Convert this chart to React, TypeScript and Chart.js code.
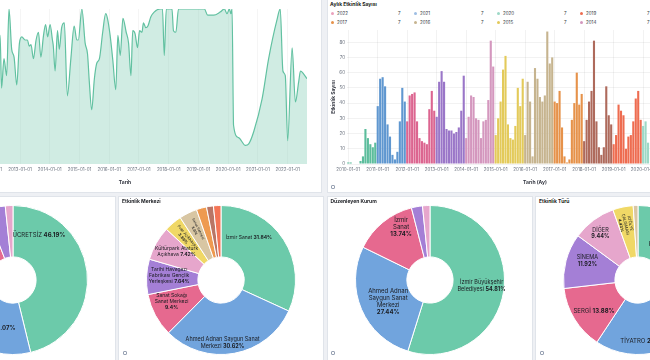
import React, { useEffect, useRef } from "react";
import { Chart, registerables } from "chart.js";
Chart.register(...registerables);

const FONT = "Inter, 'Noto Sans', 'DejaVu Sans', sans-serif";
Chart.defaults.font.family = FONT;

const TEXT = "#343741";
const SUBDUED = "#69707d";

// ---------------- Top-left: area chart (time series) ----------------
const areaDates = [
  2010.45, 2010.7, 2011.0, 2011.3, 2011.6, 2011.9, 2012.1,
  2012.33, 2012.38, 2012.46, 2012.55, 2012.63, 2012.72, 2012.8, 2012.89, 2012.98,
  2013.06, 2013.17, 2013.25, 2013.31, 2013.37, 2013.45, 2013.54, 2013.62, 2013.7, 2013.79, 2013.86, 2013.93,
  2014.01, 2014.09, 2014.12, 2014.18, 2014.26, 2014.32, 2014.4, 2014.49, 2014.59, 2014.71, 2014.82, 2014.91, 2014.96,
  2015.08, 2015.19, 2015.27, 2015.33, 2015.41, 2015.5, 2015.58, 2015.67, 2015.78, 2015.88, 2015.94,
  2016.03, 2016.12, 2016.22, 2016.29, 2016.37, 2016.46, 2016.57, 2016.65, 2016.73, 2016.79, 2016.87, 2016.95,
  2017.02, 2017.1, 2017.15, 2017.23, 2017.3, 2017.4, 2017.51, 2017.71, 2017.79, 2017.85, 2017.92,
  2018.11, 2018.16, 2018.24, 2018.33, 2018.5,
  2019.06, 2019.2, 2019.31, 2019.51, 2019.73, 2019.87, 2019.96,
  2020.04, 2020.09, 2020.13, 2020.18, 2020.35, 2020.58, 2020.69, 2020.86,
  2021.14, 2021.36, 2021.64, 2021.75, 2021.84, 2021.92,
  2022.0, 2022.15, 2022.26, 2022.37, 2022.43, 2022.54, 2022.65,
];
const areaValues = [
  60, 88, 72, 95, 58, 84, 66,
  83, 49, 68, 57, 100, 74, 69, 51, 78,
  82, 80, 80, 76, 77, 68, 80, 85, 69, 83, 90, 82,
  90, 80, 76, 60, 86, 74, 88, 91, 44, 68, 89, 80, 80,
  100, 78, 71, 53, 35, 55, 65, 68, 85, 97, 94,
  83, 67, 48, 83, 70, 94, 85, 78, 57, 86, 84, 75,
  86, 85, 91, 88, 89, 95, 98, 100, 100, 70, 100,
  100, 86, 85, 100, 100,
  100, 100, 96, 96, 98, 100, 97,
  100, 97, 100, 25, 17, 12, 13, 21,
  42, 68, 93, 100, 60, 57,
  15, 75, 40, 53, 60, 58, 55,
];
const areaTickYears = [2011, 2012, 2013, 2014, 2015, 2016, 2017, 2018, 2019, 2020, 2021, 2022];

// ---------------- Top-right: monthly event counts, by year ----------------
const barYears = [2010, 2011, 2012, 2013, 2014, 2015, 2016, 2017, 2018, 2019, 2020, 2021, 2022];
const counts2010 = [1, 1, 0, 0, 0, 2, 5, 23, 17, 13, 11, 14];
const counts2011 = [38, 56, 57, 51, 26, 18, 6, 3, 8, 28, 50, 41];
const counts2012 = [28, 45, 46, 47, 28, 17, 15, 14, 13, 36, 48, 35];
const counts2013 = [31, 54, 61, 54, 23, 22, 22, 20, 21, 24, 35, 58];
const counts2014 = [17, 31, 45, 44, 30, 29, 17, 28, 29, 42, 81, 64];
const counts2015 = [19, 30, 41, 62, 71, 26, 17, 16, 25, 50, 38, 56];
const counts2016 = [19, 54, 41, 5, 63, 56, 44, 41, 45, 87, 66, 70];
const counts2017 = [41, 40, 48, 24, 5, 1, 3, 29, 40, 60, 39, 46];
const counts2018 = [15, 29, 41, 48, 81, 28, 11, 6, 11, 51, 32, 26];
const counts2019 = [13, 19, 39, 35, 32, 10, 18, 19, 28, 43, 48, 29];
const counts2020 = [25, 28, 14, 0, 0, 0, 2, 5, 8, 12, 10, 9];
const counts2021 = [8, 10, 12, 15, 20, 25, 22, 18, 30, 35, 33, 28];
const counts2022 = [30, 32, 35, 38, 36, 33, 30, 28, 25];
const countsByYear = [
  counts2010, counts2011, counts2012, counts2013, counts2014, counts2015, counts2016,
  counts2017, counts2018, counts2019, counts2020, counts2021, counts2022,
];
const yearColors = [
  "#5CBD9C", "#5F97D0", "#DC6590", "#9A76C8", "#D497BE", "#E3CA5A", "#C6B48F",
  "#E6924A", "#AE6A5C", "#EE6C50", "#9DD8C6", "#9DBDE3", "#EBA1BC",
];
const legendYears = [2022, 2021, 2020, 2019, 2018, 2017, 2016, 2015, 2014, 2013];
const legendValue = "7";
const barYTicks = [0, 10, 20, 30, 40, 50, 60, 70, 80];

// ---------------- Bottom: doughnuts ----------------
const palette = ["#6CCAAA", "#71A4DD", "#E6698F", "#A47FD6", "#E6A6CC", "#F0D866", "#D8C6A3", "#EE9A50", "#B97565", "#F47455"];

const priceNames = ["ÜCRETSİZ", "ÜCRETLİ", "İNDİRİMLİ", "DAVETİYELİ", "BELİRTİLMEMİŞ"];
const priceShares = [46.19, 31.07, 16.88, 4.2, 1.66];

const venueNames = [
  "İzmir Sanat", "Ahmed Adnan Saygun Sanat Merkezi", "Sanat Sokağı Sanat Merkezi",
  "Tarihi Havagazı Fabrikası Gençlik Yerleşkesi", "Kültürpark Atatürk Açıkhava",
  "Fuar Açıkhava", "Sanat Sahnesi", "Diğer 1", "Diğer 2", "Diğer 3",
];
const venueShares = [31.84, 30.62, 9.4, 7.64, 7.42, 3.86, 3.9, 2.2, 1.5, 1.62];

const organizerNames = ["İzmir Büyükşehir Belediyesi", "Ahmed Adnan Saygun Sanat Merkezi", "İzmir Sanat", "Diğer A", "Diğer B"];
const organizerShares = [54.81, 27.44, 13.74, 2.4, 1.61];

const typeNames = ["KONSER", "TİYATRO", "SERGİ", "SİNEMA", "DİĞER", "ATÖLYE ÇALIŞMASI", "SÖYLEŞİ"];
const typeShares = [31.17, 28.13, 13.88, 11.92, 9.44, 4.43, 1.03];

// label placement (fraction along slice, radius, font size, wrap width, rotate)
type LL = { f: number; r: number; fs: number; w: number; rot?: boolean } | null;
const priceLayout: LL[] = [
  { f: 0.18, r: 52, fs: 6, w: 90 },
  { f: 0.34, r: 53, fs: 6, w: 90 },
  { f: 0.5, r: 50, fs: 5.5, w: 40 },
  null, null,
];
const venueLayout: LL[] = [
  { f: 0.29, r: 51, fs: 5, w: 90 },
  { f: 0.58, r: 63, fs: 5.5, w: 80 },
  { f: 0.63, r: 54, fs: 5, w: 34 },
  { f: 0.59, r: 52, fs: 5, w: 52 },
  { f: 0.63, r: 53, fs: 5, w: 46 },
  { f: 0.5, r: 56, fs: 4, w: 30, rot: true },
  { f: 0.5, r: 56, fs: 3.5, w: 28, rot: true },
  null, null, null,
];
const organizerLayout: LL[] = [
  { f: 0.49, r: 52, fs: 5.5, w: 50 },
  { f: 0.46, r: 47, fs: 6, w: 45 },
  { f: 0.71, r: 60, fs: 6, w: 25 },
  null, null,
];
const typeLayout: LL[] = [
  { f: 0.39, r: 49, fs: 6, w: 90 },
  { f: 0.61, r: 62, fs: 6, w: 90 },
  { f: 0.42, r: 54, fs: 6, w: 60 },
  { f: 0.63, r: 54, fs: 5.5, w: 28 },
  { f: 0.44, r: 60, fs: 5.5, w: 25 },
  { f: 0.44, r: 57, fs: 4, w: 32, rot: true },
  null,
];

const fmtPct = (v: number) => `${parseFloat(v.toFixed(2))}%`;

const sliceLabelPlugin = {
  id: "sliceLabels",
  afterDatasetsDraw(chart: any, _a: any, opts: any) {
    const layout: LL[] = opts.layout || [];
    const meta = chart.getDatasetMeta(0);
    const ctx: CanvasRenderingContext2D = chart.ctx;
    const names = chart.data.labels as string[];
    const values = chart.data.datasets[0].data as number[];
    meta.data.forEach((arc: any, i: number) => {
      const L = layout[i];
      if (!L) return;
      const p = arc.getProps(["x", "y", "startAngle", "endAngle"], true);
      const a = p.startAngle + (p.endAngle - p.startAngle) * L.f;
      const px = p.x + Math.cos(a) * L.r;
      const py = p.y + Math.sin(a) * L.r;
      const normal = `${L.fs}px ${FONT}`;
      const bold = `bold ${L.fs}px ${FONT}`;
      const toks = String(names[i]).split(" ").map((t) => ({ t, b: false }));
      toks.push({ t: fmtPct(values[i]), b: true });
      ctx.save();
      ctx.font = normal;
      const sp = ctx.measureText(" ").width;
      const meas = (tk: any) => {
        ctx.font = tk.b ? bold : normal;
        return ctx.measureText(tk.t).width;
      };
      const lines: { toks: any[]; w: number }[] = [];
      let cur: any[] = [];
      let w = 0;
      toks.forEach((tk) => {
        const tw = meas(tk);
        const nw = cur.length ? w + sp + tw : tw;
        if (cur.length && nw > L.w) {
          lines.push({ toks: cur, w });
          cur = [tk];
          w = tw;
        } else {
          cur.push(tk);
          w = nw;
        }
      });
      if (cur.length) lines.push({ toks: cur, w });
      ctx.translate(px, py);
      if (L.rot) ctx.rotate(a + Math.PI);
      const lh = L.fs * 1.2;
      let y = -(lines.length * lh) / 2 + lh / 2;
      ctx.fillStyle = "#1a1c21";
      ctx.textBaseline = "middle";
      ctx.textAlign = "left";
      lines.forEach((ln) => {
        let x = -ln.w / 2;
        ln.toks.forEach((tk, k) => {
          ctx.font = tk.b ? bold : normal;
          ctx.fillText(tk.t, x, y);
          x += ctx.measureText(tk.t).width + (k < ln.toks.length - 1 ? sp : 0);
        });
        y += lh;
      });
      ctx.restore();
    });
  },
};

function ChartCanvas({ left, top, width, height, make }: any) {
  const ref = useRef<HTMLCanvasElement>(null);
  useEffect(() => {
    const chart = new Chart(ref.current as HTMLCanvasElement, make());
    return () => chart.destroy();
  }, []);
  return (
    <div style={{ position: "absolute", left, top, width, height }}>
      <canvas ref={ref} width={width} height={height} style={{ width, height, display: "block" }} />
    </div>
  );
}

const xTitleFont = { size: 5, weight: "bold" as const, family: FONT };
const tickFont = { size: 4.5, family: FONT };

function makeArea(): any {
  return {
    type: "line",
    data: {
      datasets: [
        {
          data: areaDates.map((x, i) => ({ x, y: areaValues[i] })),
          borderColor: "#62C1A1",
          backgroundColor: "rgba(98,193,161,0.3)",
          fill: "origin",
          pointRadius: 0,
          borderWidth: 1.2,
          cubicInterpolationMode: "monotone",
        },
      ],
    },
    options: {
      animation: false,
      responsive: false,
      devicePixelRatio: 1,
      layout: { padding: { top: 9, right: 15, left: 13, bottom: 5.1 } },
      plugins: { legend: { display: false }, tooltip: { enabled: false } },
      scales: {
        x: {
          type: "linear",
          min: 2010.41,
          max: 2022.65,
          afterBuildTicks: (axis: any) => {
            axis.ticks = areaTickYears.map((v) => ({ value: v }));
          },
          ticks: {
            autoSkip: false,
            maxRotation: 0,
            padding: 3,
            font: tickFont,
            color: SUBDUED,
            callback: (v: any) => `${v}-01-01`,
          },
          grid: { color: "rgba(0,0,0,0.04)", drawTicks: false },
          border: { display: false },
          title: { display: true, text: "Tarih", font: xTitleFont, color: TEXT, padding: { top: 4.5, bottom: 0 } },
        },
        y: { min: 0, max: 100, display: false },
      },
    },
  };
}

const barLabels: string[] = [];
const barValues: number[] = [];
const barColors: string[] = [];
barYears.forEach((yr, yi) => {
  countsByYear[yi].forEach((v, m) => {
    barLabels.push(`${yr}-${String(m + 1).padStart(2, "0")}`);
    barValues.push(v);
    barColors.push(yearColors[yi]);
  });
});

function makeBars(): any {
  return {
    type: "bar",
    data: {
      labels: barLabels,
      datasets: [
        {
          data: barValues,
          backgroundColor: barColors,
          barPercentage: 1,
          categoryPercentage: 0.86,
        },
      ],
    },
    options: {
      animation: false,
      responsive: false,
      devicePixelRatio: 1,
      layout: { padding: { top: 6, right: 2, left: 0, bottom: 5.1 } },
      plugins: { legend: { display: false }, tooltip: { enabled: false } },
      scales: {
        x: {
          type: "category",
          ticks: {
            autoSkip: false,
            maxRotation: 0,
            minRotation: 0,
            padding: 3,
            font: tickFont,
            color: SUBDUED,
            callback: function (this: any, v: any) {
              const l = this.getLabelForValue(v) as string;
              return l.endsWith("-01") ? `${l}-01` : "";
            },
          },
          grid: {
            offset: false,
            drawTicks: false,
            color: (c: any) => (c.index % 12 === 0 ? "rgba(0,0,0,0.05)" : "rgba(0,0,0,0)"),
          },
          border: { display: false },
          title: { display: true, text: "Tarih (Ay)", font: xTitleFont, color: TEXT, padding: { top: 4.5, bottom: 0 } },
        },
        y: {
          min: 0,
          max: 88,
          afterBuildTicks: (axis: any) => {
            axis.ticks = barYTicks.map((v) => ({ value: v }));
          },
          afterFit: (axis: any) => {
            axis.width = 22;
          },
          ticks: { padding: 2, font: tickFont, color: SUBDUED },
          grid: { color: "rgba(0,0,0,0.05)", drawTicks: false },
          border: { display: false },
          title: { display: true, text: "Etkinlik Sayısı", font: xTitleFont, color: TEXT, padding: { top: 5, bottom: 0 } },
        },
      },
    },
  };
}

function makeDoughnut(names: string[], shares: number[], layout: LL[]) {
  return (): any => ({
    type: "doughnut",
    data: {
      labels: names,
      datasets: [
        {
          data: shares,
          backgroundColor: palette.slice(0, shares.length),
          borderColor: "#ffffff",
          borderWidth: 1,
        },
      ],
    },
    options: {
      animation: false,
      responsive: false,
      devicePixelRatio: 1,
      cutout: "31%",
      plugins: { legend: { display: false }, tooltip: { enabled: false }, sliceLabels: { layout } },
    },
    plugins: [sliceLabelPlugin],
  });
}

function Panel({ left, top, width, height }: any) {
  return (
    <div
      style={{
        position: "absolute",
        left,
        top,
        width,
        height,
        boxSizing: "border-box",
        background: "#ffffff",
        border: "1px solid #e0e4ea",
      }}
    />
  );
}

function Icon({ left, top }: any) {
  return (
    <div
      style={{
        position: "absolute",
        left,
        top,
        width: 4,
        height: 4,
        boxSizing: "border-box",
        border: "1px solid #98a2b3",
        borderRadius: 1,
      }}
    />
  );
}

const titleStyle = (left: number, top: number): React.CSSProperties => ({
  position: "absolute",
  left,
  top,
  fontSize: 5,
  fontWeight: 700,
  color: "#1a1c21",
  lineHeight: "6px",
  whiteSpace: "nowrap",
});

const bottomPanels = [
  { left: -90.5, title: "Bilet Durumu", names: priceNames, shares: priceShares, layout: priceLayout },
  { left: 118, title: "Etkinlik Merkezi", names: venueNames, shares: venueShares, layout: venueLayout },
  { left: 326.5, title: "Düzenleyen Kurum", names: organizerNames, shares: organizerShares, layout: organizerLayout },
  { left: 535, title: "Etkinlik Türü", names: typeNames, shares: typeShares, layout: typeLayout },
];

export default function App() {
  return (
    <div
      style={{
        position: "fixed",
        left: 0,
        top: 0,
        width: 650,
        height: 360,
        overflow: "hidden",
        background: "#eef0f4",
        fontFamily: FONT,
      }}
    >
      <Panel left={-10} top={-10} width={332} height={203} />
      <Panel left={327} top={-10} width={340} height={203} />
      {bottomPanels.map((p, i) => (
        <Panel key={i} left={p.left} top={196} width={206} height={175} />
      ))}

      <ChartCanvas left={-70} top={0} width={392} height={191} make={makeArea} />

      <div style={titleStyle(330, 1)}>Aylık Etkinlik Sayısı</div>
      {legendYears.map((yr, i) => {
        const col = i % 5;
        const row = Math.floor(i / 5);
        const x = 331 + col * 83;
        const y = 10.5 + row * 9;
        const color = yearColors[barYears.indexOf(yr)];
        return (
          <React.Fragment key={yr}>
            <div
              style={{
                position: "absolute",
                left: x,
                top: y + 1.5,
                width: 3,
                height: 3,
                borderRadius: 2,
                background: color,
              }}
            />
            <div style={{ position: "absolute", left: x + 6, top: y, fontSize: 4.5, lineHeight: "6px", color: TEXT }}>{yr}</div>
            <div style={{ position: "absolute", left: x + 67, top: y, fontSize: 4.5, lineHeight: "6px", color: TEXT }}>
              {legendValue}
            </div>
          </React.Fragment>
        );
      })}
      <ChartCanvas left={325} top={24} width={400} height={167} make={makeBars} />
      <Icon left={331} top={185} />

      {bottomPanels.map((p, i) => (
        <React.Fragment key={"d" + i}>
          <div style={titleStyle(p.left + 4, 198)}>{p.title}</div>
          <ChartCanvas
            left={p.left + 103 - 75}
            top={205}
            width={150}
            height={150}
            make={makeDoughnut(p.names, p.shares, p.layout)}
          />
          <Icon left={p.left + 4.5} top={351} />
        </React.Fragment>
      ))}
    </div>
  );
}
